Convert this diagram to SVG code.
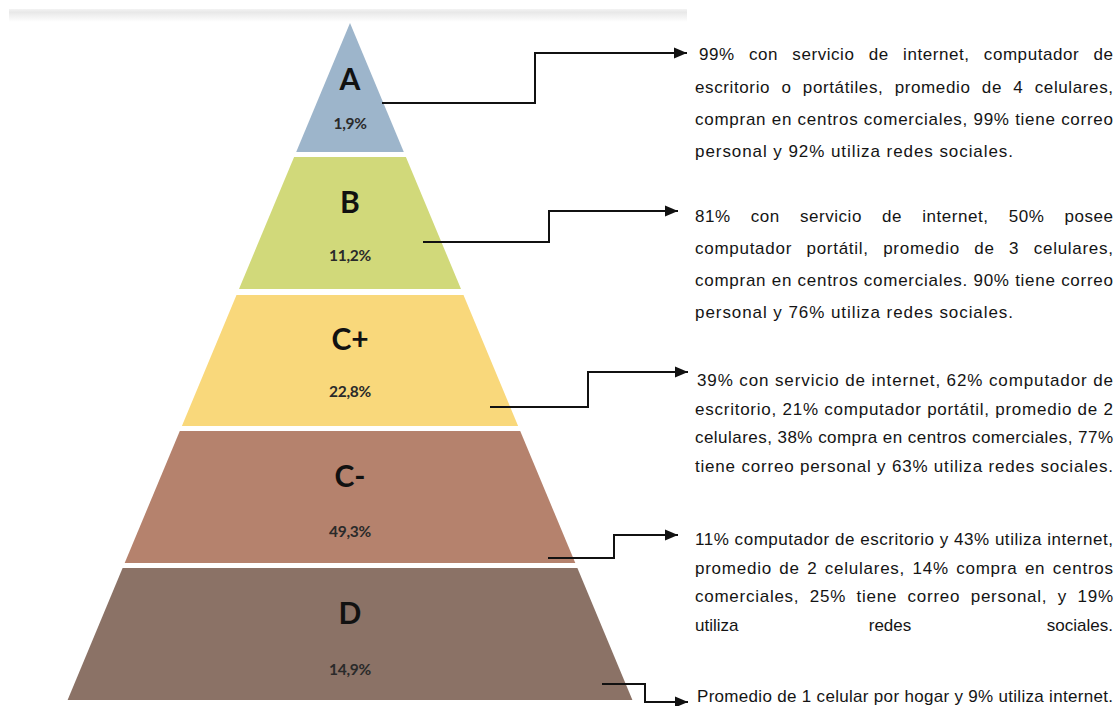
<svg xmlns="http://www.w3.org/2000/svg" width="1120" height="706" viewBox="0 0 1120 706">
<defs>
<linearGradient id="shadow" x1="0" y1="0" x2="0" y2="1">
<stop offset="0" stop-color="#f3f3f3"/>
<stop offset="0.25" stop-color="#e8e8e8"/>
<stop offset="1" stop-color="#ffffff"/>
</linearGradient>
<marker id="arr" markerUnits="userSpaceOnUse" markerWidth="14" markerHeight="12" refX="13" refY="6" orient="auto">
<path d="M0,0.5 L13,6 L0,11.5 z" fill="#111"/>
</marker>
<style>
.lvl{font-family:Lato,"Liberation Sans",sans-serif;font-weight:700;font-size:30px;fill:#111;text-anchor:middle}
.pct{font-family:Lato,"Liberation Sans",sans-serif;font-weight:700;font-size:15.5px;fill:#2a2a2a;text-anchor:middle;letter-spacing:-0.3px}
.d{font-family:"Liberation Sans",Arial,sans-serif;font-size:17px;fill:#141414}
.con{fill:none;stroke:#111;stroke-width:2;marker-end:url(#arr)}
</style>
</defs>
<rect x="0" y="0" width="1120" height="706" fill="#ffffff"/>
<rect x="9" y="9" width="678" height="13" fill="url(#shadow)"/>

<g id="level-A">
<polygon points="350,23 403.8,152 296.2,152" fill="#9db5cb"/>
<text class="lvl" x="350" y="90">A</text>
<text class="pct" x="350" y="129">1,9%</text>
</g>
<g id="level-B">
<polygon points="294.1,157 405.9,157 461,289 239,289" fill="#d1d97a"/>
<text class="lvl" x="350" y="213">B</text>
<text class="pct" x="350" y="261">11,2%</text>
</g>
<g id="level-Cplus">
<polygon points="236.5,295 463.5,295 518.1,426 181.9,426" fill="#f9d87b"/>
<text class="lvl" x="350" y="350">C+</text>
<text class="pct" x="350" y="397">22,8%</text>
</g>
<g id="level-Cminus">
<polygon points="179.8,431 520.2,431 575.3,563 124.7,563" fill="#b5826d"/>
<text class="lvl" x="350" y="487">C-</text>
<text class="pct" x="350" y="537">49,3%</text>
</g>
<g id="level-D">
<polygon points="122.6,568 577.4,568 632.4,700 67.6,700" fill="#8b7266"/>
<text class="lvl" x="350" y="624">D</text>
<text class="pct" x="350" y="675">14,9%</text>
</g>

<g id="connectors">
<path class="con" d="M382,103 H535 V53 H687"/>
<path class="con" d="M423,242 H549 V211 H678"/>
<path class="con" d="M490,407 H588 V372 H688"/>
<path class="con" d="M548,558 H614 V535 H678"/>
<path class="con" d="M602,684 H645 V702 H688"/>
</g>

<g id="desc-A">
<text class="d" x="699" y="60" textLength="414" lengthAdjust="spacing" style="word-spacing:9px">99% con servicio de internet, computador de</text>
<text class="d" x="695" y="93" textLength="418" lengthAdjust="spacing" style="word-spacing:6px">escritorio o portátiles, promedio de 4 celulares,</text>
<text class="d" x="695" y="125" textLength="418" lengthAdjust="spacing">compran en centros comerciales, 99% tiene correo</text>
<text class="d" x="695" y="157" textLength="318" lengthAdjust="spacing">personal y 92% utiliza redes sociales.</text>
</g>
<g id="desc-B">
<text class="d" x="695" y="222" textLength="418" lengthAdjust="spacing" style="word-spacing:15px">81% con servicio de internet, 50% posee</text>
<text class="d" x="695" y="254" textLength="418" lengthAdjust="spacing" style="word-spacing:9px">computador portátil, promedio de 3 celulares,</text>
<text class="d" x="695" y="286" textLength="418" lengthAdjust="spacing">compran en centros comerciales. 90% tiene correo</text>
<text class="d" x="695" y="318" textLength="318" lengthAdjust="spacing">personal y 76% utiliza redes sociales.</text>
</g>
<g id="desc-Cplus">
<text class="d" x="697" y="386" textLength="416" lengthAdjust="spacing">39% con servicio de internet, 62% computador de</text>
<text class="d" x="695" y="415" textLength="418" lengthAdjust="spacing">escritorio, 21% computador portátil, promedio de 2</text>
<text class="d" x="695" y="443" textLength="418" lengthAdjust="spacing">celulares, 38% compra en centros comerciales, 77%</text>
<text class="d" x="695" y="472" textLength="418" lengthAdjust="spacing">tiene correo personal y 63% utiliza redes sociales.</text>
</g>
<g id="desc-Cminus">
<text class="d" x="695" y="545" textLength="418" lengthAdjust="spacing">11% computador de escritorio y 43% utiliza internet,</text>
<text class="d" x="695" y="574" textLength="418" lengthAdjust="spacing" style="word-spacing:2px">promedio de 2 celulares, 14% compra en centros</text>
<text class="d" x="695" y="602" textLength="418" lengthAdjust="spacing" style="word-spacing:5px">comerciales, 25% tiene correo personal, y 19%</text>
<text class="d" x="695" y="631">utiliza</text>
<text class="d" x="890" y="631" text-anchor="middle">redes</text>
<text class="d" x="1113" y="631" text-anchor="end">sociales.</text>
</g>
<g id="desc-D">
<text class="d" x="697" y="702" textLength="416" lengthAdjust="spacing">Promedio de 1 celular por hogar y 9% utiliza internet.</text>
</g>
</svg>
